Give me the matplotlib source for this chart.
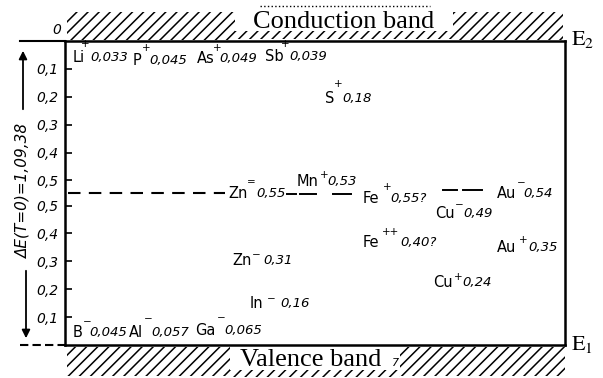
import matplotlib
matplotlib.use("Agg")
import matplotlib.pyplot as plt
from matplotlib.patches import Rectangle

# band gap of silicon (eV)
GAP = 1.09

# impurity levels: element, charge, level (eV), label text, measured from 'c' (E2) or 'v' (E1)
impurity = ['Li', 'P', 'As', 'Sb', 'S', 'Zn', 'Mn', 'Fe', 'Cu', 'Au',
            'Fe', 'Au', 'Zn', 'Cu', 'In', 'B', 'Al', 'Ga']
charge = ['+', '+', '+', '+', '+', '=', '+', '+', '\u2212', '\u2212',
          '++', '+', '\u2212', '+', '\u2212', '\u2212', '\u2212', '\u2212']
level = [0.033, 0.045, 0.049, 0.039, 0.18, 0.55, 0.53, 0.55, 0.49, 0.54,
         0.40, 0.35, 0.31, 0.24, 0.16, 0.045, 0.057, 0.065]
level_text = ['0,033', '0,045', '0,049', '0,039', '0,18', '0,55', '0,53', '0,55?', '0,49', '0,54',
              '0,40?', '0,35', '0,31', '0,24', '0,16', '0,045', '0,057', '0,065']
band_ref = ['c', 'c', 'c', 'c', 'c', 'c', 'c', 'c', 'v', 'c',
            'v', 'v', 'v', 'v', 'v', 'v', 'v', 'v']

# scale ticks, measured from each band edge
scale_ticks = [0.1, 0.2, 0.3, 0.4, 0.5]
scale_labels = ['0,1', '0,2', '0,3', '0,4', '0,5']

# layout (pixel units): x of name / charge / value, vertical nudge, charge lift
x_name = [73, 133, 197, 265, 325, 228, 297, 363, 435, 497, 363, 497, 232, 433, 250, 73, 129, 195]
x_charge = [81, 142, 213, 281, 334, 247, 320, 383, 455, 517, 382, 519, 252, 454, 267, 83, 144, 217]
x_value = [90, 149, 219, 289, 342, 256, 327, 390, 463, 523, 400, 528, 263, 462, 280, 89, 151, 224]
nudge = [-7, -6.5, -4, -5, -7, 1, 7, -4, -5, -2, -9, 0, -1.5, -4, -3, 0, -3, -4]
lift = [13, 12, 11, 13, 14, 11, 7, 11, 8, 11, 10, 7, 5, 5, 4, 10, 13, 13]

TOP, BOT = 41, 345          # box edges in pixels
K = (BOT - TOP) / GAP       # pixels per eV


def ey(py):
    # pixel row -> energy coordinate
    return (BOT - py) / K


plt.rcParams['mathtext.fontset'] = 'stix'
plt.rcParams['hatch.linewidth'] = 1.1

fig = plt.figure(figsize=(6.03, 3.78), dpi=100)
ax = fig.add_axes([65 / 603, (378 - BOT) / 378, 500 / 603, (BOT - TOP) / 378])
ax.set_xlim(65, 565)
ax.set_ylim(0, GAP)
for s in ax.spines.values():
    s.set_linewidth(1.8)
ax.set_xticks([])
yt = [GAP - t for t in scale_ticks] + scale_ticks[::-1]
ax.set_yticks(yt)
ax.set_yticklabels(scale_labels + scale_labels[::-1], fontstyle='italic', fontsize=10)
ax.tick_params(axis='y', direction='in', length=5, width=1.2, pad=5)

# impurity labels
for i in range(len(impurity)):
    e = level[i] if band_ref[i] == 'v' else GAP - level[i]
    y = e + nudge[i] / K
    ax.text(x_name[i], y, impurity[i], ha='left', va='center', fontsize=10.5)
    ax.text(x_charge[i], y + lift[i] / K, charge[i], ha='left', va='center', fontsize=7.5)
    ax.text(x_value[i], y, level_text[i], ha='left', va='center', fontsize=9.5, style='italic')

# mid-gap dashed line and short dashes
ax.plot([68, 225], [GAP / 2, GAP / 2], color='k', lw=1.5, ls=(0, (6, 4)))
for a, b, py in [(287, 296, 194), (300, 316, 194), (333, 351, 194), (443, 457, 190), (463, 482, 190)]:
    ax.plot([a, b], [ey(py), ey(py)], color='k', lw=1.4)

# band hatching
hatch_boxes = [(67, 235, 12, 40), (453, 563, 12, 40), (235, 453, 31, 39),
               (67, 230, 347, 376), (400, 565, 347, 376), (230, 400, 370, 377)]
for x0, x1, y0, y1 in hatch_boxes:
    ax.add_patch(Rectangle((x0, ey(y1)), x1 - x0, ey(y0) - ey(y1), hatch='///',
                           fill=False, lw=0, edgecolor='k', clip_on=False))
ax.plot([260, 430], [ey(6), ey(6)], color='k', lw=1, ls=':', clip_on=False)

ax.text(253, ey(28), 'Conduction band', family='Liberation Serif', fontsize=19,
        ha='left', va='baseline')
ax.text(240, ey(366), 'Valence band', family='Liberation Serif', fontsize=19,
        ha='left', va='baseline')
ax.text(392, ey(366), '7', fontsize=8, style='italic', va='baseline')
ax.text(571, ey(45), r'$\mathrm{E}_2$', fontsize=16, va='baseline')
ax.text(571, ey(350), r'$\mathrm{E}_1$', fontsize=16, va='baseline')

# left energy-gap arrow
ax.plot([20, 65], [GAP, GAP], color='k', lw=1.5, clip_on=False)
ax.plot([20, 65], [0, 0], color='k', lw=1.5, ls=(0, (4, 2)), clip_on=False)
ax.annotate('', xy=(23, ey(48)), xytext=(23, ey(112)), annotation_clip=False,
            arrowprops=dict(arrowstyle='-|>', color='k', lw=1.3, mutation_scale=12))
ax.annotate('', xy=(26, ey(341)), xytext=(26, ey(268)), annotation_clip=False,
            arrowprops=dict(arrowstyle='-|>', color='k', lw=1.3, mutation_scale=12))
ax.text(23, ey(190), '\u0394E(T=0)=1,09,38', rotation=90, ha='center', va='center',
        style='italic', fontsize=11)
ax.text(57, ey(30), '0', style='italic', fontsize=10, ha='center', va='center')

fig.savefig('out.png', dpi=100)
